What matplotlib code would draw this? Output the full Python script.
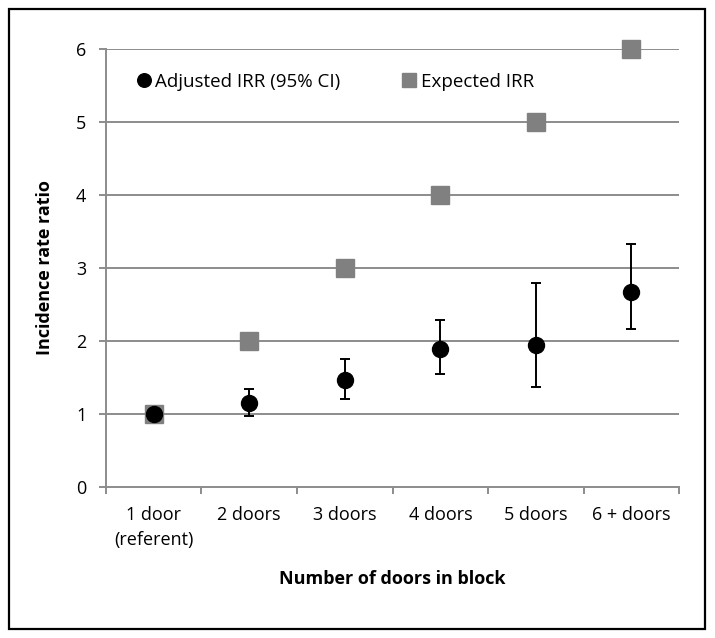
import numpy as np
import matplotlib.pyplot as plt
from matplotlib.patches import Rectangle

categories = ['1 door\n(referent)', '2 doors', '3 doors', '4 doors', '5 doors', '6 + doors']
adjusted = [1.00, 1.15, 1.46, 1.89, 1.94, 2.67]
ci_low = [1.00, 0.97, 1.21, 1.55, 1.37, 2.16]
ci_high = [1.00, 1.34, 1.76, 2.29, 2.79, 3.33]
expected = [1, 2, 3, 4, 5, 6]

plt.rcParams['font.family'] = ['Open Sans', 'DejaVu Sans']

fig = plt.figure(figsize=(7.15, 6.38), dpi=100)
ax = fig.add_axes([0.148, 0.2367, 0.802, 0.6863])

x = np.arange(1, len(categories) + 1)
adj = np.array(adjusted)
err = [adj - np.array(ci_low), np.array(ci_high) - adj]

# Lignes de grille
for v in range(1, 7):
    ax.axhline(v, color='#8c8c8c', linewidth=1.4, zorder=1)

h2, = ax.plot(x, expected, 's', color='#808080', markersize=12.5, linestyle='none',
              zorder=2, label='Expected IRR', clip_on=False)
ax.errorbar(x, adj, yerr=err, fmt='none', ecolor='black', elinewidth=1.4,
            capsize=3.5, capthick=1.4, zorder=3)
h1, = ax.plot(x, adj, 'o', color='black', markersize=11.5, linestyle='none',
              zorder=4, label='Adjusted IRR (95% CI)')

ax.set_xlim(0.5, 6.5)
ax.set_ylim(0, 6)
ax.set_yticks(range(0, 7))
ax.set_xticks(x)
ax.set_xticklabels(categories, fontsize=13, linespacing=1.5)
ax.set_xticks(np.arange(0.5, 6.6, 1), minor=True)
ax.tick_params(axis='x', which='major', length=0, pad=14)
ax.tick_params(axis='x', which='minor', length=5, width=1.4, color='#8c8c8c')
ax.tick_params(axis='y', length=5, width=1.4, color='#8c8c8c', labelsize=13, pad=9)

for s in ['top', 'right']:
    ax.spines[s].set_visible(False)
for s in ['left', 'bottom']:
    ax.spines[s].set_color('#8c8c8c')
    ax.spines[s].set_linewidth(1.4)

ax.set_ylabel('Incidence rate ratio', fontsize=13, fontweight='bold', labelpad=16)
ax.set_xlabel('Number of doors in block', fontsize=13, fontweight='bold', labelpad=15)

ax.legend(handles=[h1, h2], ncol=2, frameon=False, loc='center left',
          bbox_to_anchor=(0.02, 0.925), fontsize=13.5, handletextpad=0.1,
          columnspacing=3.2, handlelength=1.0, markerscale=0.85)

fig.patches.append(Rectangle((9 / 715, 1 - 629 / 638), 696 / 715, 620 / 638,
                             transform=fig.transFigure, fill=False,
                             edgecolor='black', linewidth=1.6))

plt.savefig('out.png', dpi=100)
